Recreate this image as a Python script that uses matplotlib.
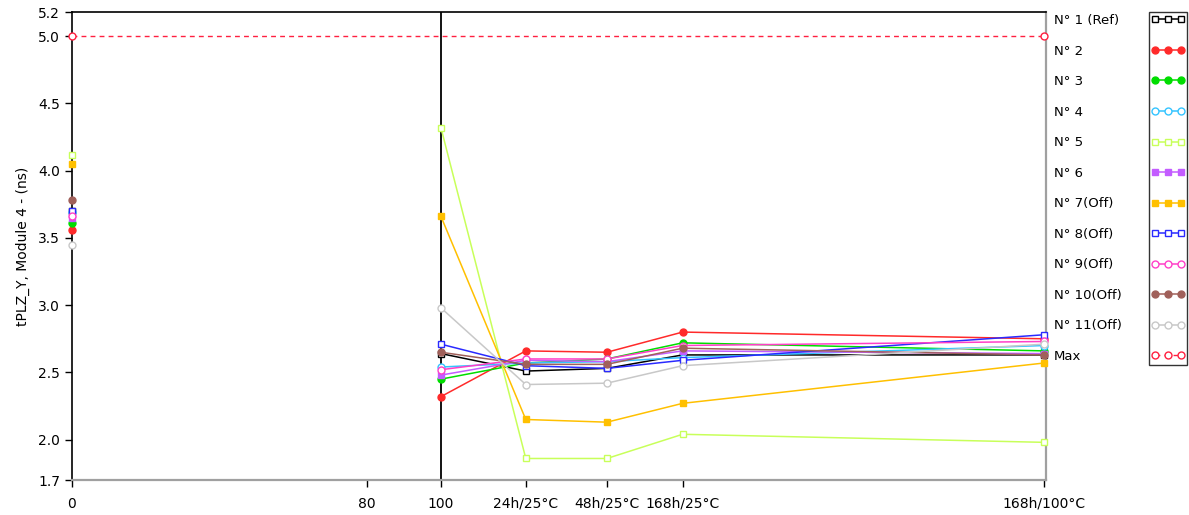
import matplotlib.pyplot as plt
from matplotlib.lines import Line2D

plt.rcParams["font.family"] = ["DejaVu Sans"]

# --- Data ---
x_pos = [0, 100, 123, 145, 165.5, 263.5]
x_ticks = [0, 80, 100, 123, 145, 165.5, 263.5]
x_labels = ["0", "80", "100", "24h/25°C", "48h/25°C", "168h/25°C", "168h/100°C"]
y_min, y_max = 1.7, 5.18
y_ticks = [1.7, 2.0, 2.5, 3.0, 3.5, 4.0, 4.5, 5.0, y_max]

n1 = [3.70, 2.64, 2.51, 2.53, 2.63, 2.63]
n2 = [3.56, 2.32, 2.66, 2.65, 2.80, 2.75]
n3 = [3.61, 2.45, 2.57, 2.60, 2.72, 2.66]
n4 = [3.69, 2.54, 2.57, 2.58, 2.61, 2.70]
n5 = [4.12, 4.32, 1.86, 1.86, 2.04, 1.98]
n6 = [3.65, 2.48, 2.59, 2.58, 2.66, 2.64]
n7 = [4.05, 3.66, 2.15, 2.13, 2.27, 2.57]
n8 = [3.70, 2.71, 2.55, 2.53, 2.59, 2.78]
n9 = [3.66, 2.52, 2.60, 2.60, 2.70, 2.73]
n10 = [3.78, 2.65, 2.56, 2.56, 2.68, 2.63]
n11 = [3.45, 2.98, 2.41, 2.42, 2.55, 2.71]
max_x = [0, 263.5]
max_y = [5.0, 5.0]
cursor_x = 100

names = ["N° 1 (Ref)", "N° 2", "N° 3", "N° 4", "N° 5", "N° 6",
         "N° 7(Off)", "N° 8(Off)", "N° 9(Off)", "N° 10(Off)", "N° 11(Off)"]
series = [n1, n2, n3, n4, n5, n6, n7, n8, n9, n10, n11]
colors = ["#000000", "#ff2a2a", "#00dd00", "#33c4ff", "#c8ff5a", "#c35cff",
          "#ffc000", "#2a2aff", "#ff3fc8", "#a0605a", "#c8c8c8"]
# (marker, filled)
styles = [("s", False), ("o", True), ("o", True), ("o", False), ("s", False),
          ("s", True), ("s", True), ("s", False), ("o", False), ("o", True),
          ("o", False)]

fig = plt.figure(figsize=(11.89, 5.15), dpi=100)
ax = fig.add_axes([72 / 1189, 1 - 480 / 515, (1046 - 72) / 1189, (480 - 12) / 515])

handles = []
for name, ys, c, (m, filled) in zip(names, series, colors, styles):
    kw = dict(color=c, marker=m, ms=5, mfc=c if filled else "white", mec=c,
              mew=1.0, clip_on=False, zorder=3)
    # first measurement stands alone, the rest is joined by a line
    ax.plot(x_pos[:1], ys[:1], ls="none", **kw)
    ln, = ax.plot(x_pos[1:], ys[1:], lw=1.1, label=name, **kw)
    handles.append(ln)

mx, = ax.plot(max_x, max_y, color="#ff2040", lw=1.0, ls=(0, (3.5, 3)),
              marker="o", ms=5, mfc="white", mec="#ff2040", clip_on=False,
              label="Max", zorder=3)
handles.append(mx)

ax.axvline(cursor_x, color="black", lw=1.3, zorder=2)

ax.set_xlim(0, 264)
ax.set_ylim(y_min, y_max)
ax.set_xticks(x_ticks)
ax.set_xticklabels(x_labels)
ax.set_yticks(y_ticks)
ax.set_yticklabels([f"{v:.1f}" for v in y_ticks])
ax.tick_params(direction="out", length=5, width=1, labelsize=10)
ax.tick_params(axis="x", pad=7)
ax.set_ylabel("tPLZ_Y, Module 4 - (ns)", fontsize=10, labelpad=6)

for side in ("left", "top"):
    ax.spines[side].set_color("black")
    ax.spines[side].set_linewidth(1.2)
for side in ("bottom", "right"):
    ax.spines[side].set_color("#a0a0a0")
    ax.spines[side].set_linewidth(1.6)

labels = names + ["Max"]
fs = 9.5
spacing = 1.33
top = 1 - 12 / 515

# legend text column (left aligned)
blank = [Line2D([], [], color="none") for _ in labels]
leg_text = fig.legend(blank, labels, loc="upper left",
                      bbox_to_anchor=(1052 / 1189, top),
                      frameon=False, fontsize=fs, labelspacing=spacing,
                      handlelength=0, handletextpad=0, borderpad=0.15,
                      borderaxespad=0)

# legend sample column in a box
leg_box = fig.legend(handles, [""] * len(labels), loc="upper right",
                     bbox_to_anchor=(1187 / 1189, top),
                     frameon=True, fancybox=False, fontsize=fs,
                     labelspacing=spacing, handlelength=2.6, handletextpad=0,
                     numpoints=3, borderpad=0.15, borderaxespad=0)
leg_box.get_frame().set_edgecolor("black")
leg_box.get_frame().set_linewidth(1.0)

fig.savefig("out.png", dpi=100)
